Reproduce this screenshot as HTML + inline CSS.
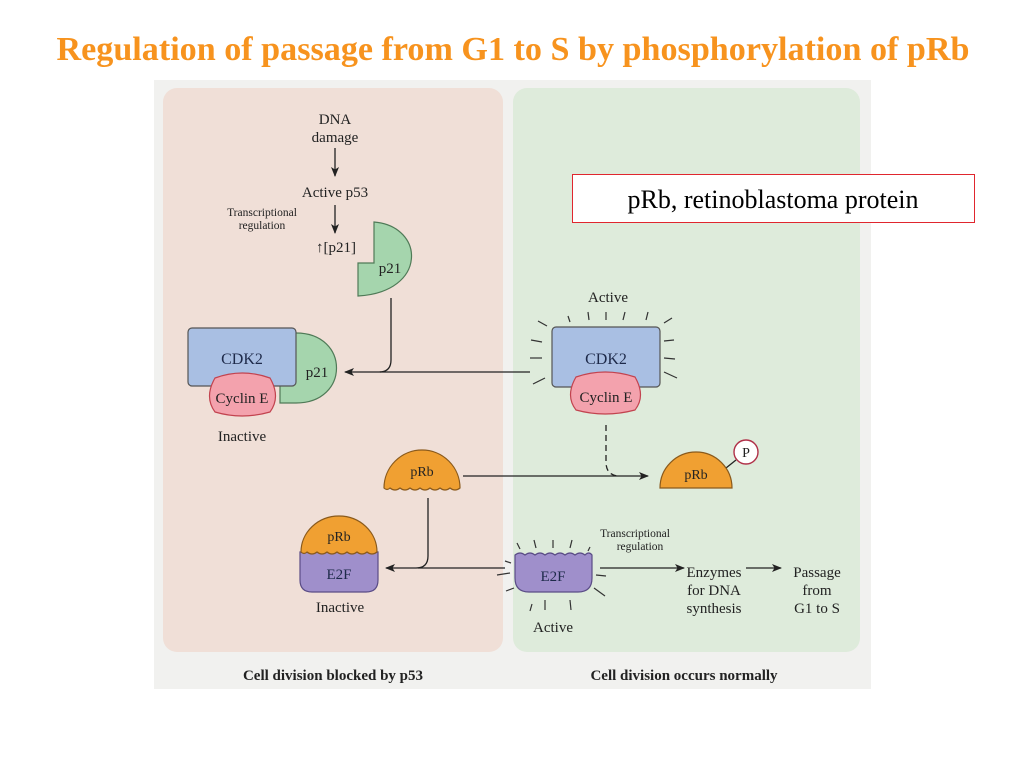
<!DOCTYPE html>
<html><head><meta charset="utf-8"><style>
html,body{margin:0;padding:0;background:#fff;}
svg{display:block;}
text{font-family:"Liberation Serif",serif;}
</style></head><body>
<svg width="1024" height="768" viewBox="0 0 1024 768" xmlns="http://www.w3.org/2000/svg">
<defs>
<marker id="ah" markerWidth="10" markerHeight="8" refX="9" refY="4" orient="auto" markerUnits="userSpaceOnUse">
<path d="M0,0 L10,4 L0,8 L2.5,4 Z" fill="#222"/></marker>
</defs>
<text x="513" y="60" text-anchor="middle" font-size="34" font-weight="bold" fill="#f7931e" textLength="913" lengthAdjust="spacingAndGlyphs">Regulation of passage from G1 to S by phosphorylation of pRb</text>

<rect x="154" y="80" width="717" height="609" fill="#f1f1ef"/>
<rect x="163" y="88" width="340" height="564" rx="14" fill="#f0dfd7"/>
<rect x="513" y="88" width="347" height="564" rx="14" fill="#deebdb"/>

<g font-size="15" fill="#222" text-anchor="middle">
<text x="335" y="124">DNA</text>
<text x="335" y="142">damage</text>
<text x="335" y="197">Active p53</text>
<text x="336" y="252">↑[p21]</text>
<text x="242" y="441">Inactive</text>
<text x="608" y="302">Active</text>
<text x="340" y="612">Inactive</text>
<text x="553" y="632">Active</text>
<text x="714" y="577">Enzymes</text>
<text x="714" y="595">for DNA</text>
<text x="714" y="613">synthesis</text>
<text x="817" y="577">Passage</text>
<text x="817" y="595">from</text>
<text x="817" y="613">G1 to S</text>
</g>
<g font-size="11.5" fill="#222" text-anchor="middle">
<text x="262" y="216">Transcriptional</text>
<text x="262" y="229">regulation</text>
<text x="635" y="537">Transcriptional</text>
<text x="640" y="550">regulation</text>
</g>
<g stroke="#222" stroke-width="1.3" fill="none">
<line x1="335" y1="148" x2="335" y2="176" marker-end="url(#ah)"/>
<line x1="335" y1="205" x2="335" y2="233" marker-end="url(#ah)"/>
<path d="M391,298 L391,360 Q391,372 379,372 L345,372" marker-end="url(#ah)"/>
<line x1="530" y1="372" x2="380" y2="372"/>
<line x1="463" y1="476" x2="648" y2="476" marker-end="url(#ah)"/>
<path d="M606,425 L606,462 Q606,476 620,476" stroke-dasharray="6,4"/>
<path d="M428,498 L428,556 Q428,568 416,568 L386,568" marker-end="url(#ah)"/>
<line x1="505" y1="568" x2="418" y2="568"/>
<line x1="600" y1="568" x2="684" y2="568" marker-end="url(#ah)"/>
<line x1="746" y1="568" x2="781" y2="568" marker-end="url(#ah)"/>
<line x1="716" y1="476" x2="736" y2="460"/>
</g>

<path d="M374,222 C425,226 428,292 358,296 L358,263 L374,263 Z" fill="#a5d5ad" stroke="#4f7a57" stroke-width="1.2"/>
<text x="390" y="273" font-size="15" text-anchor="middle" fill="#222">p21</text>

<path d="M296,333 C350,333 350,403 296,403 L280,403 L280,340 Z" fill="#a5d5ad" stroke="#4f7a57" stroke-width="1.2"/>
<rect x="188" y="328" width="108" height="58" rx="4" fill="#a9bfe3" stroke="#555" stroke-width="1.2"/>
<text x="317" y="377" font-size="15" text-anchor="middle" fill="#222">p21</text>
<text x="242" y="364" font-size="16" text-anchor="middle" fill="#1e2a4a">CDK2</text>
<path d="M215,378 Q242,368 270,378 Q281,397 270,412 Q242,420 215,412 Q204,397 215,378 Z" fill="#f3a2ad" stroke="#c2434f" stroke-width="1.2"/>
<text x="242" y="403" font-size="15" text-anchor="middle" fill="#222">Cyclin E</text>

<rect x="552" y="327" width="108" height="60" rx="4" fill="#a9bfe3" stroke="#555" stroke-width="1.2"/>
<text x="606" y="364" font-size="16" text-anchor="middle" fill="#1e2a4a">CDK2</text>
<path d="M576,377 Q605,367 635,377 Q646,396 635,410 Q605,418 576,410 Q565,396 576,377 Z" fill="#f3a2ad" stroke="#c2434f" stroke-width="1.2"/>
<text x="606" y="402" font-size="15" text-anchor="middle" fill="#222">Cyclin E</text>
<g stroke="#333" stroke-width="1.2">
<line x1="568" y1="316" x2="570" y2="322"/><line x1="588" y1="312" x2="589" y2="320"/><line x1="606" y1="312" x2="606" y2="320"/><line x1="625" y1="312" x2="623" y2="320"/><line x1="648" y1="312" x2="646" y2="320"/>
<line x1="538" y1="321" x2="547" y2="326"/><line x1="531" y1="340" x2="542" y2="342"/><line x1="530" y1="358" x2="542" y2="358"/><line x1="533" y1="384" x2="545" y2="378"/>
<line x1="664" y1="323" x2="672" y2="318"/><line x1="664" y1="341" x2="674" y2="340"/><line x1="664" y1="358" x2="675" y2="359"/><line x1="664" y1="372" x2="677" y2="378"/>
</g>

<path d="M384,488 A38,38 0 0 1 460,488 Q455,492 450,488 Q445,492 440,488 Q435,492 430,488 Q425,492 420,488 Q415,492 410,488 Q405,492 400,488 Q395,492 390,488 Q387,491 384,488 Z" fill="#f0a032" stroke="#8a5a1c" stroke-width="1.2"/>
<text x="422" y="476" font-size="14" text-anchor="middle" fill="#222">pRb</text>
<path d="M660,488 A36,36 0 0 1 732,488 Z" fill="#f0a032" stroke="#8a5a1c" stroke-width="1.2"/>
<text x="696" y="479" font-size="14" text-anchor="middle" fill="#222">pRb</text>
<circle cx="746" cy="452" r="12" fill="#fff" stroke="#b03048" stroke-width="1.4"/>
<text x="746" y="457" font-size="14" text-anchor="middle" fill="#222">P</text>

<path d="M300,552 L300,580 Q300,592 312,592 L366,592 Q378,592 378,580 L378,552 Z" fill="#9f8fcb" stroke="#5a4c86" stroke-width="1.2"/>
<path d="M301,552 A38,36 0 0 1 377,552 Q372,556 367,552 Q362,556 357,552 Q352,556 347,552 Q342,556 337,552 Q332,556 327,552 Q322,556 317,552 Q312,556 307,552 Q304,555 301,552 Z" fill="#f0a032" stroke="#8a5a1c" stroke-width="1.2"/>
<text x="339" y="541" font-size="14" text-anchor="middle" fill="#222">pRb</text>
<text x="339" y="579" font-size="15" text-anchor="middle" fill="#1e2a4a">E2F</text>

<path d="M515,555 Q520,551 525,555 Q530,551 535,555 Q540,551 545,555 Q550,551 555,555 Q560,551 565,555 Q570,551 575,555 Q580,551 585,555 Q589,551 592,555 L592,578 Q592,592 578,592 L529,592 Q515,592 515,578 Z" fill="#9f8fcb" stroke="#5a4c86" stroke-width="1.2"/>
<text x="553" y="581" font-size="15" text-anchor="middle" fill="#1e2a4a">E2F</text>
<g stroke="#333" stroke-width="1.2">
<line x1="517" y1="543" x2="520" y2="549"/><line x1="534" y1="540" x2="536" y2="548"/><line x1="553" y1="540" x2="553" y2="548"/><line x1="572" y1="540" x2="570" y2="548"/><line x1="590" y1="547" x2="588" y2="551"/>
<line x1="505" y1="561" x2="511" y2="563"/><line x1="497" y1="575" x2="510" y2="573"/><line x1="506" y1="591" x2="514" y2="588"/>
<line x1="596" y1="575" x2="606" y2="576"/><line x1="594" y1="588" x2="605" y2="596"/>
<line x1="532" y1="604" x2="530" y2="611"/><line x1="545" y1="600" x2="545" y2="610"/><line x1="570" y1="600" x2="571" y2="610"/>
</g>

<g font-size="15" font-weight="bold" text-anchor="middle" fill="#222">
<text x="333" y="680">Cell division blocked by p53</text>
<text x="684" y="680">Cell division occurs normally</text>
</g>

<rect x="572.5" y="174.5" width="402" height="48" fill="#fff" stroke="#e0262e" stroke-width="1"/>
<text x="773" y="208" font-size="26" text-anchor="middle" fill="#000">pRb, retinoblastoma protein</text>
</svg>
</body></html>
